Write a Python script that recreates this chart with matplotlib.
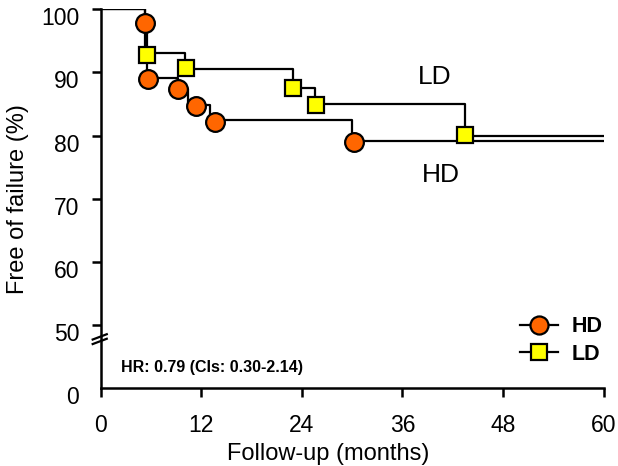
import matplotlib
matplotlib.use("Agg")
import matplotlib.pyplot as plt
import matplotlib.transforms as mtransforms
from matplotlib.lines import Line2D
import numpy as np

plt.rcParams['font.family'] = ['Liberation Sans', 'DejaVu Sans']

# Kaplan-Meier steps (months, % free of failure)
hd_time = [0, 5.34, 5.5, 9.26, 10.4, 13.05, 29.95, 60]
hd_surv = [100, 97.9, 89.1, 87.3, 84.8, 82.4, 79.2, 79.2]
# symbols as drawn on the HD curve
hd_mark_x = [5.34, 5.65, 9.18, 11.4, 13.65, 30.25]
hd_mark_y = [97.9, 89.0, 87.4, 84.7, 82.1, 79.0]

ld_time = [0, 5.34, 10.06, 22.9, 25.6, 43.5, 60]
ld_surv = [100, 93.0, 90.5, 87.6, 85.05, 80.0, 80.0]
ld_mark_x = [5.53, 10.18, 22.98, 25.64, 43.5]
ld_mark_y = [92.8, 90.7, 87.6, 84.8, 80.1]

xticks = [0, 12, 24, 36, 48, 60]
yticks = [0, 50, 60, 70, 80, 90, 100]

hd_color = '#FF6600'
ld_color = '#FFFF00'


# broken y axis: 0..50 squeezed into the space of 10 units
def fwd(y):
    y = np.asarray(y, dtype=float)
    return np.where(y >= 50, y - 40, y / 5)


def inv(u):
    u = np.asarray(u, dtype=float)
    return np.where(u >= 10, u + 40, u * 5)


fig = plt.figure(figsize=(6.18, 4.66), dpi=100)
ax = fig.add_axes([0.163, 0.1674, 0.8138, 0.8126])
ax.set_yscale('function', functions=(fwd, inv))

ax.plot(hd_time, hd_surv, drawstyle='steps-post', color='black', lw=1.6, zorder=2)
ax.plot(ld_time, ld_surv, drawstyle='steps-post', color='black', lw=1.6, zorder=2)
ax.plot(hd_mark_x, hd_mark_y, 'o', ms=13.5, mfc=hd_color, mec='black', mew=1.6,
        ls='none', zorder=3, clip_on=False)
ax.plot(ld_mark_x, ld_mark_y, 's', ms=12, mfc=ld_color, mec='black', mew=1.6,
        ls='none', zorder=4, clip_on=False)

ax.set_xlim(0, 60)
ax.set_ylim(0, 100)
ax.set_xticks(xticks)
ax.set_yticks(yticks)
ax.set_yticklabels([str(t) for t in yticks])

for s in ['top', 'right']:
    ax.spines[s].set_visible(False)
for s in ['left', 'bottom']:
    ax.spines[s].set_linewidth(1.8)

ax.tick_params(axis='both', which='major', labelsize=16.5, width=1.8, length=6.5,
               direction='out')
ax.tick_params(axis='y', pad=9)
ax.tick_params(axis='x', pad=12)
ax.yaxis.get_major_ticks()[0].tick1line.set_visible(False)
offset = mtransforms.ScaledTranslation(0, -0.07, fig.dpi_scale_trans)
for lab in ax.get_yticklabels():
    lab.set_transform(lab.get_transform() + offset)

ax.set_xlabel('Follow-up (months)', fontsize=17)
ax.set_ylabel('Free of failure (%)', fontsize=17)
ax.yaxis.set_label_coords(-0.143, 0.5)
ax.xaxis.set_label_coords(0.453, -0.145)

# axis break marks
for dy in (0.0, 0.012):
    ax.plot([-0.016, 0.012], [0.116 + dy, 0.130 + dy], color='black', lw=1.6,
            transform=ax.transAxes, clip_on=False, zorder=5)

ax.text(39.9, 89.2, 'LD', fontsize=19, ha='center', va='center')
ax.text(40.6, 73.8, 'HD', fontsize=19, ha='center', va='center')
ax.text(0.04, 0.053, 'HR: 0.79 (CIs: 0.30-2.14)', fontsize=11.5, fontweight='bold',
        transform=ax.transAxes, ha='left', va='center')

handles = [
    Line2D([0], [0], color='black', lw=1.6, marker='o', ms=13, mfc=hd_color,
           mec='black', mew=1.6),
    Line2D([0], [0], color='black', lw=1.6, marker='s', ms=11, mfc=ld_color,
           mec='black', mew=1.6),
]
ax.legend(handles, ['HD', 'LD'], loc='center', bbox_to_anchor=(0.915, 0.125),
          frameon=False, prop={'size': 15.5, 'weight': 'bold'}, handlelength=1.8,
          handletextpad=0.6, labelspacing=0.3)

fig.savefig('out.png', dpi=100)
